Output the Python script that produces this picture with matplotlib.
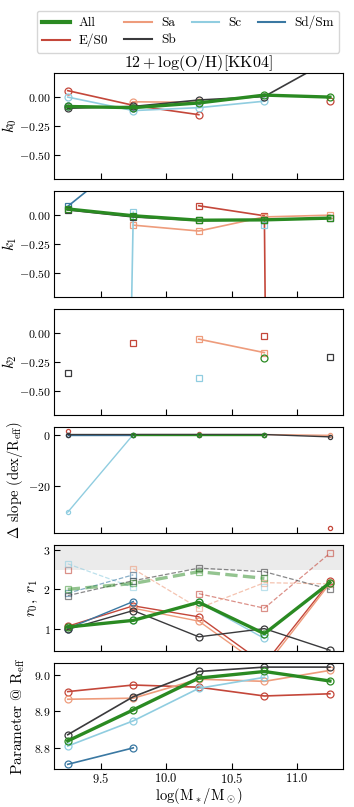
import numpy as np
import matplotlib
matplotlib.use("Agg")
import matplotlib.pyplot as plt

plt.rcParams['font.family'] = 'serif'
plt.rcParams['font.serif'] = ['cmr10']
plt.rcParams['mathtext.fontset'] = 'cm'
plt.rcParams['axes.formatter.use_mathtext'] = True
plt.rcParams['axes.unicode_minus'] = True

nan = np.nan

""" Data """
mass = [9.25, 9.75, 10.25, 10.75, 11.25]
types = ['All', 'E/S0', 'Sa', 'Sb', 'Sc', 'Sd/Sm']
colors = {'All': '#2a8a22', 'E/S0': '#c4473a', 'Sa': '#ee9c7c',
          'Sb': '#3a3a3c', 'Sc': '#90cde0', 'Sd/Sm': '#3a78a2'}

k0 = {'All':   [-0.085, -0.095, -0.055, 0.012, -0.005],
      'E/S0':  [0.05, -0.075, -0.155, nan, -0.04],
      'Sa':    [nan, -0.045, -0.05, nan, nan],
      'Sb':    [-0.10, -0.085, -0.03, 0.0, 0.31],
      'Sc':    [-0.005, -0.12, -0.095, -0.04, nan],
      'Sd/Sm': [-0.08, -0.10, nan, nan, nan]}

k1 = {'All':   [0.048, -0.01, -0.048, -0.045, -0.03],
      'E/S0':  [nan, nan, 0.075, -0.01, -60.0],
      'Sa':    [nan, -0.09, -0.14, -0.02, -0.005],
      'Sb':    [0.04, -0.02, -0.05, -0.045, -0.03],
      'Sc':    [-30.0, 0.02, nan, -0.09, nan],
      'Sd/Sm': [0.07, 0.52, nan, nan, nan]}

k2 = {'All':   [nan, nan, nan, -0.22, nan],
      'E/S0':  [nan, -0.09, nan, -0.03, nan],
      'Sa':    [nan, nan, -0.055, -0.17, nan],
      'Sb':    [-0.34, nan, nan, nan, -0.21],
      'Sc':    [nan, nan, -0.39, nan, nan],
      'Sd/Sm': [nan, nan, nan, nan, nan]}

dslope = {'All':   [nan, 0.0, 0.0, 0.0, nan],
          'E/S0':  [1.2, nan, 0.2, nan, -36.0],
          'Sa':    [nan, 0.0, 0.0, 0.0, -0.3],
          'Sb':    [0.0, 0.0, 0.0, 0.0, -0.9],
          'Sc':    [-30.0, 0.0, 0.0, 0.0, nan],
          'Sd/Sm': [0.0, 0.0, nan, nan, nan]}

r0 = {'All':   [1.04, 1.21, 1.67, 0.87, 2.17],
      'E/S0':  [1.06, 1.58, 1.30, 0.10, 2.20],
      'Sa':    [nan, 1.52, 1.19, 0.0, 2.15],
      'Sb':    [0.98, 1.46, 0.79, 1.00, 0.45],
      'Sc':    [nan, 1.21, 1.67, 0.75, nan],
      'Sd/Sm': [1.0, 1.69, nan, nan, nan]}

r1 = {'All':   [2.0, 2.15, 2.45, 2.28, nan],
      'E/S0':  [2.49, nan, 1.89, 1.52, 2.92],
      'Sa':    [nan, 2.52, 1.52, 2.17, 2.14],
      'Sb':    [1.84, 2.22, 2.54, 2.45, 2.0],
      'Sc':    [2.65, 2.05, nan, 2.05, nan],
      'Sd/Sm': [1.90, 2.37, nan, nan, nan]}

reff = {'All':   [8.819, 8.904, 8.991, 9.009, 8.983],
        'E/S0':  [8.954, 8.972, 8.966, 8.942, 8.948],
        'Sa':    [8.933, 8.936, 8.988, 8.982, 9.012],
        'Sb':    [8.836, 8.94, 9.009, 9.021, 9.021],
        'Sc':    [8.805, 8.874, 8.963, 8.993, nan],
        'Sd/Sm': [8.755, 8.80, nan, nan, nan]}


def style(t):
    lw = 2.4 if t == 'All' else 1.2
    return dict(color=colors[t], lw=lw, mfc='none', mec=colors[t], mew=0.9)


""" Plotting """
fig, axes = plt.subplots(6, 1, figsize=(3.54, 8.07), dpi=100, sharex=True)
fig.subplots_adjust(left=0.1525, right=0.969, top=0.9095, bottom=0.047, hspace=0.118)

draw_order = ['E/S0', 'Sa', 'Sc', 'Sd/Sm', 'Sb', 'All']

ax = axes[0]
for t in draw_order:
    ax.plot(mass, k0[t], marker='o', ms=5, **style(t))
ax.set_ylim(-0.7, 0.2)
ax.set_yticks([0.0, -0.25, -0.5])
ax.set_ylabel(r'$k_0$', fontsize=11)
ax.set_title(r'$12+\log({\rm O/H})[{\rm KK04}]$', fontsize=11.5, pad=3)

ax = axes[1]
for t in draw_order:
    ax.plot(mass, k1[t], marker='s', ms=5, **style(t))
ax.set_ylim(-0.7, 0.2)
ax.set_yticks([0.0, -0.25, -0.5])
ax.set_ylabel(r'$k_1$', fontsize=11)

ax = axes[2]
for t in draw_order:
    m = 'o' if t == 'All' else 's'
    ax.plot(mass, k2[t], marker=m, ms=5, **style(t))
ax.set_ylim(-0.7, 0.2)
ax.set_yticks([0.0, -0.25, -0.5])
ax.set_ylabel(r'$k_2$', fontsize=11)

ax = axes[3]
for t in draw_order:
    st = style(t)
    st['lw'] = 1.0
    ax.plot(mass, dslope[t], marker='o', ms=3, **st)
ax.set_ylim(-38, 2.8)
ax.set_yticks([0, -20])
ax.set_ylabel(r'$\Delta$ slope (dex/R$_{\rm eff}$)', fontsize=10.5)

ax = axes[4]
ax.axhspan(2.5, 3.3, color='#ebebeb', lw=0, zorder=0)
for t in draw_order:
    st = style(t)
    if t != 'All':
        st['lw'] = 0.9
        ax.plot(mass, r1[t], marker='s', ms=5, ls='--', alpha=0.6, **st)
    else:
        ax.plot(mass, r1[t], marker='s', ms=5, ls='--', alpha=0.5, **st)
for t in draw_order:
    st = style(t)
    if t != 'All':
        st['lw'] = 1.0
    ax.plot(mass, r0[t], marker='o', ms=5, **st)
ax.set_ylim(0.43, 3.12)
ax.set_yticks([1, 2, 3])
ax.set_ylabel(r'$r_0,\ r_1$', fontsize=11)

ax = axes[5]
for t in draw_order:
    ax.plot(mass, reff[t], marker='o', ms=5, **style(t))
ax.set_ylim(8.742, 9.031)
ax.set_yticks([8.8, 8.9, 9.0])
ax.set_ylabel(r'Parameter @ R$_{\rm eff}$', fontsize=11)
ax.set_xlabel(r'$\log({\rm M_*/M_\odot})$', fontsize=10.5, labelpad=0)

label_x = [-0.12, -0.12, -0.12, -0.10, -0.05, -0.093]
for ax, lx in zip(axes, label_x):
    ax.set_xlim(9.145, 11.35)
    ax.set_xticks([9.5, 10.0, 10.5, 11.0])
    ax.tick_params(direction='in', length=4, pad=2.5)
    ax.tick_params(axis='x', labelsize=9, pad=2)
    ax.tick_params(axis='y', labelsize=8.5)
    ax.yaxis.set_label_coords(lx, 0.5)

handles = [plt.Line2D([], [], color=colors[t], lw=3 if t == 'All' else 1.5) for t in types]
fig.legend(handles, types, loc='upper center', bbox_to_anchor=(188 / 354, 1 - 4 / 807), ncol=4,
           fontsize=9.5, handlelength=2.1, handletextpad=0.7, columnspacing=1.2,
           borderpad=0.4, labelspacing=0.35, fancybox=True)

plt.savefig('out.png', dpi=100)
